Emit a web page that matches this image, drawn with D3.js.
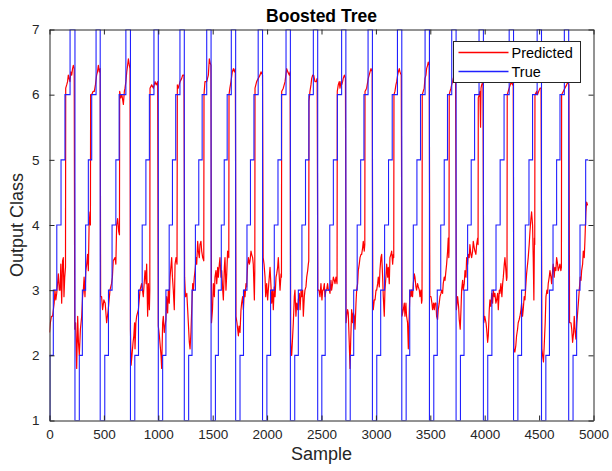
<!DOCTYPE html>
<html>
<head>
<meta charset="utf-8">
<script src="https://cdn.jsdelivr.net/npm/d3@7"></script>
<style>
  body { margin: 0; background: #fff; }
  svg { display: block; font-family: "Liberation Sans", Arial, sans-serif; }
</style>
</head>
<body>
<svg id="chart"></svg>
<script>
const xTicks = [0, 500, 1000, 1500, 2000, 2500, 3000, 3500, 4000, 4500, 5000];
const yTicks = [1, 2, 3, 4, 5, 6, 7];
const seriesNames = ["Predicted", "True"];
const seriesColors = ["#ff0000", "#2020ff"];

// True class: [sample where the level starts, level]
const trueSteps = [
  [0,1],[4,2],[35,3],[67,4],[106,5],[142,6],[189,7],[234,1],
  [274,2],[302,3],[332,4],[357,5],[388,6],[428,7],[466,1],
  [508,2],[542,3],[575,4],[610,5],[640,6],[702,7],[744,1],
  [784,2],[818,3],[852,4],[886,5],[918,6],[960,7],[1000,1],
  [1040,2],[1070,3],[1100,4],[1130,5],[1160,6],[1199,7],[1239,1],
  [1279,2],[1310,3],[1341,4],[1372,5],[1403,6],[1445,7],[1485,1],
  [1525,2],[1552,3],[1579,4],[1606,5],[1633,6],[1671,7],[1711,1],
  [1751,2],[1783,3],[1815,4],[1847,5],[1879,6],[1918,7],[1958,1],
  [1998,2],[2032,3],[2066,4],[2100,5],[2132,6],[2174,7],[2214,1],
  [2254,2],[2287,3],[2320,4],[2353,5],[2384,6],[2425,7],[2465,1],
  [2503,2],[2534,3],[2576,4],[2609,5],[2646,6],[2685,7],[2724,1],
  [2764,2],[2796,3],[2828,4],[2860,5],[2890,6],[2928,7],[2968,1],
  [3008,2],[3044,3],[3080,4],[3116,5],[3150,6],[3198,7],[3238,1],
  [3278,2],[3311,3],[3344,4],[3377,5],[3410,6],[3452,7],[3492,1],
  [3532,2],[3564,3],[3596,4],[3628,5],[3658,6],[3697,7],[3737,1],
  [3777,2],[3810,3],[3843,4],[3876,5],[3907,6],[3948,7],[3988,1],
  [4028,2],[4066,3],[4104,4],[4142,5],[4178,6],[4225,7],[4265,1],
  [4305,2],[4339,3],[4373,4],[4407,5],[4440,6],[4482,7],[4522,1],
  [4562,2],[4595,3],[4628,4],[4661,5],[4692,6],[4732,7],[4772,1],
  [4812,2],[4845,3],[4876,4],[4928,5],[4950,5]
];

// Predicted class: [sample, value]
const predicted = [
  [0,2.35],[8,2.5],[18,2.6],[28,2.6],[43,2.8],[50,3.0],[58,2.85],[66,2.95],[74,3.1],[81,3.25],[90,3.0],[97,3.0],[104,3.4],[112,2.8],[120,3.45],[127,3.5],[133,2.9],[140,3.2],[147,3.35],
  [149,6.1],[158,6.15],[166,6.2],[173,6.3],[180,6.25],[188,6.2],[196,6.35],[204,6.3],[212,6.4],[219,6.45],[227,6.4],
  [232,2.4],[240,2.5],[250,1.8],[259,2.6],[266,2.2],[274,2.0],[284,2.4],[296,2.6],[304,2.9],[311,3.0],[318,3.2],[326,2.9],[334,3.3],[342,3.4],[350,3.55],[357,3.3],[364,4.0],[372,4.2],[376,4.0],
  [378,6.0],[388,6.0],[400,6.05],[412,6.05],[422,6.15],[433,6.3],[441,6.35],[449,6.45],[458,6.35],[466,6.4],
  [470,2.9],[479,2.9],[488,2.7],[500,2.85],[512,2.8],[525,2.5],[540,2.7],[556,3.0],[570,3.1],[578,3.2],[586,3.45],[602,3.5],[610,3.4],[617,4.0],[626,4.1],[636,3.9],[643,3.85],
  [645,6.05],[655,5.95],[665,6.0],[679,5.85],[688,6.05],[694,6.1],[702,6.2],[710,6.35],[718,6.45],[725,6.55],[734,6.45],[740,6.4],
  [744,2.4],[750,1.85],[758,2.0],[768,2.2],[775,2.3],[782,2.5],[786,2.1],[794,2.5],[801,2.6],[817,2.7],[832,3.0],[847,3.1],[862,2.9],[878,3.3],[888,3.1],[893,3.4],[902,2.6],[909,3.1],[918,2.7],[922,3.0],
  [924,6.1],[939,6.15],[955,6.1],[970,6.2],[980,6.15],[994,6.2],
  [1000,2.45],[1010,2.3],[1025,2.0],[1031,1.8],[1040,2.5],[1046,2.6],[1055,2.35],[1062,2.45],[1070,2.55],[1077,2.9],[1086,2.65],[1092,3.0],[1101,2.8],[1108,3.2],[1123,3.5],[1130,3.2],[1138,3.0],[1147,2.7],[1154,3.4],[1163,3.5],[1172,3.4],
  [1175,6.15],[1184,6.1],[1200,6.2],[1215,6.25],[1224,6.3],[1236,6.3],
  [1242,3.2],[1250,2.9],[1262,2.95],[1270,2.7],[1276,2.5],[1285,2.2],[1292,2.1],[1300,2.35],[1307,2.7],[1316,3.1],[1322,3.0],[1331,3.2],[1338,3.3],[1347,3.5],[1353,3.4],[1362,3.75],[1368,3.6],[1377,3.5],[1383,3.7],[1392,3.75],[1399,3.6],[1408,3.5],[1418,3.45],
  [1420,6.0],[1429,6.2],[1445,6.2],[1460,6.3],[1469,6.55],[1475,6.5],[1484,6.45],
  [1489,2.5],[1498,2.7],[1506,3.1],[1515,2.9],[1521,3.2],[1530,3.3],[1537,3.1],[1546,3.35],[1552,3.2],[1561,3.4],[1567,3.5],[1576,3.2],[1583,3.3],[1592,3.0],[1598,2.85],[1607,3.35],[1613,3.5],[1622,3.0],[1629,3.25],[1637,3.6],[1644,3.55],[1648,3.5],
  [1650,6.0],[1658,6.1],[1668,6.2],[1680,6.35],[1690,6.4],[1699,6.35],[1708,6.4],
  [1714,2.6],[1723,2.5],[1736,2.3],[1742,2.45],[1751,2.35],[1760,2.7],[1766,2.8],[1775,2.9],[1782,2.7],[1791,3.0],[1797,2.9],[1806,3.1],[1812,3.05],[1821,3.4],[1828,3.5],[1837,3.4],[1843,3.45],[1852,3.6],[1858,3.55],[1867,3.5],[1873,3.4],[1883,2.85],[1887,3.3],
  [1889,6.1],[1904,6.2],[1919,6.25],[1935,6.3],[1944,6.35],[1958,6.3],
  [1964,3.5],[1972,3.4],[1981,3.2],[1987,2.9],[1996,3.1],[2005,2.85],[2011,3.0],[2020,3.2],[2027,3.35],[2036,3.05],[2042,2.8],[2051,3.0],[2057,2.7],[2066,3.05],[2073,2.9],[2082,3.2],[2088,3.25],[2097,3.35],[2103,3.5],[2112,3.2],[2119,3.0],[2128,3.25],[2132,3.2],
  [2134,6.05],[2149,6.1],[2165,6.2],[2180,6.4],[2190,6.35],[2205,6.3],[2212,6.35],
  [2217,2.2],[2222,2.0],[2226,2.0],[2235,2.3],[2241,2.5],[2250,2.9],[2256,3.0],[2265,2.6],[2272,2.8],[2281,2.7],[2287,2.85],[2296,2.95],[2303,2.7],[2312,3.0],[2318,2.9],[2327,3.0],[2333,2.6],[2342,2.9],[2348,3.0],[2357,3.05],[2364,3.2],[2373,3.3],[2379,3.4],[2383,3.45],
  [2385,5.9],[2394,6.05],[2403,6.15],[2410,6.25],[2419,6.3],[2428,6.3],[2440,6.2],[2450,6.2],[2460,6.25],
  [2466,3.0],[2477,3.0],[2486,2.9],[2495,3.1],[2504,2.85],[2511,3.0],[2517,3.0],[2526,3.1],[2532,2.9],[2541,3.0],[2547,3.0],[2556,3.1],[2563,3.0],[2572,3.0],[2578,2.95],[2587,3.15],[2593,3.0],[2602,3.1],[2609,3.2],[2618,3.15],[2624,3.1],[2633,3.2],[2643,3.1],
  [2645,6.05],[2654,6.15],[2663,6.2],[2670,6.1],[2679,6.2],[2685,6.15],[2694,6.2],[2700,6.25],[2710,6.3],[2720,6.25],
  [2726,2.5],[2731,2.6],[2740,2.7],[2746,2.65],[2755,2.2],[2762,1.8],[2768,2.2],[2777,2.7],[2786,2.5],[2792,2.65],[2801,2.6],[2808,2.4],[2817,2.8],[2823,3.0],[2832,3.1],[2838,3.3],[2847,3.4],[2854,3.5],[2863,3.55],[2869,3.55],[2878,3.65],[2884,3.75],[2893,3.6],[2898,3.7],
  [2900,6.05],[2915,6.1],[2930,6.25],[2946,6.35],[2955,6.4],[2966,6.35],
  [2972,2.7],[2976,2.7],[2985,2.85],[2992,2.85],[3001,3.0],[3007,3.0],[3016,3.1],[3022,3.2],[3031,3.05],[3037,3.3],[3046,3.5],[3053,3.55],[3062,3.2],[3068,2.9],[3077,2.6],[3083,3.0],[3092,3.2],[3099,3.4],[3108,3.2],[3114,3.35],[3123,3.1],[3129,3.5],[3138,3.55],[3145,3.6],[3154,3.4],[3160,3.55],[3164,3.5],
  [3166,6.0],[3175,6.05],[3184,6.15],[3191,6.2],[3200,6.3],[3206,6.35],[3215,6.4],[3221,6.35],[3233,6.3],
  [3240,2.6],[3252,2.7],[3261,2.8],[3267,2.6],[3276,2.8],[3282,2.6],[3291,2.5],[3298,2.1],[3304,2.5],[3313,3.0],[3322,2.9],[3328,3.0],[3337,2.9],[3344,3.1],[3353,3.25],[3359,3.2],[3368,3.05],[3374,3.0],[3383,3.1],[3390,3.05],[3399,3.0],[3405,2.9],[3414,3.0],[3420,2.8],[3424,2.85],
  [3426,6.0],[3435,6.05],[3444,6.1],[3451,6.25],[3460,6.3],[3466,6.4],[3475,6.45],[3481,6.5],[3490,6.45],
  [3496,2.9],[3506,2.9],[3515,2.8],[3521,2.7],[3530,2.8],[3537,2.7],[3543,2.8],[3552,2.8],[3558,2.6],[3567,2.55],[3573,2.7],[3582,2.8],[3589,2.9],[3598,2.95],[3604,3.0],[3613,2.95],[3619,3.1],[3628,3.2],[3635,3.15],[3644,3.3],[3650,3.4],[3659,3.6],[3665,3.8],[3670,3.5],[3672,3.6],
  [3674,6.0],[3681,6.05],[3690,6.1],[3696,6.15],[3705,6.2],[3711,6.25],[3720,6.3],[3732,6.3],
  [3740,2.7],[3751,2.9],[3760,2.75],[3766,2.55],[3775,2.4],[3782,2.7],[3788,3.0],[3797,3.15],[3803,3.0],[3812,3.1],[3819,3.3],[3828,3.2],[3834,3.5],[3843,3.4],[3849,3.55],[3858,3.5],[3864,3.7],[3873,3.55],[3880,3.5],[3889,3.6],[3895,3.75],[3904,3.65],[3910,3.6],[3919,3.55],[3926,3.7],[3935,3.8],[3939,3.7],
  [3941,5.95],[3950,6.0],[3956,6.05],[3962,5.5],[3966,6.1],[3972,6.15],[3984,6.2],
  [3992,2.5],[4000,2.6],[4012,2.5],[4018,2.4],[4027,2.2],[4033,2.3],[4042,2.7],[4048,2.85],[4057,2.75],[4064,2.95],[4073,2.8],[4079,3.0],[4088,2.9],[4094,2.95],[4103,2.8],[4110,2.85],[4119,2.95],[4125,2.7],[4134,3.0],[4140,2.95],[4149,3.1],[4158,2.9],[4165,3.1],[4171,3.2],[4180,3.4],[4186,3.5],[4195,3.3],[4201,3.15],[4205,3.2],
  [4207,6.0],[4216,6.05],[4225,6.1],[4235,6.15],[4245,6.2],[4255,6.15],[4262,6.2],
  [4268,2.1],[4277,2.05],[4286,2.15],[4293,2.3],[4302,2.4],[4308,2.5],[4317,2.55],[4324,2.6],[4333,2.7],[4339,2.8],[4348,2.6],[4354,2.7],[4363,2.9],[4370,2.85],[4379,3.1],[4385,3.25],[4394,3.4],[4400,3.5],[4409,3.7],[4416,3.9],[4425,4.1],[4431,4.2],[4440,4.0],[4446,3.5],[4452,2.85],[4457,3.8],[4460,3.7],
  [4462,6.0],[4477,6.05],[4486,6.0],[4496,6.05],[4508,6.1],[4518,6.1],
  [4526,2.1],[4532,2.0],[4540,1.9],[4547,2.15],[4556,2.5],[4563,2.9],[4572,3.0],[4578,2.95],[4584,3.1],[4593,3.2],[4600,3.3],[4609,3.2],[4615,3.1],[4624,3.3],[4630,3.4],[4639,3.2],[4645,3.35],[4654,3.3],[4661,3.5],[4670,3.4],[4676,3.3],[4685,3.35],[4691,3.4],[4700,3.3],[4705,3.35],
  [4707,6.0],[4722,6.05],[4737,6.1],[4753,6.15],[4765,6.2],[4774,6.15],
  [4780,2.5],[4793,2.5],[4800,2.4],[4808,2.2],[4817,2.35],[4823,2.6],[4832,2.35],[4838,2.25],[4847,2.5],[4854,2.65],[4863,2.85],[4869,3.0],[4878,3.2],[4885,3.15],[4891,3.3],[4900,3.4],[4906,3.6],[4915,3.5],[4921,3.75],[4930,4.2],[4937,4.35],[4946,4.3]
];

const width = 612, height = 471;
const margin = { top: 29.5, right: 18.5, bottom: 50.5, left: 49.5 };
const axisColor = "#262626";

const svg = d3.select("#chart")
    .attr("width", width)
    .attr("height", height)
    .attr("viewBox", [0, 0, width, height]);

const x = d3.scaleLinear()
    .domain([0, 5000])
    .range([margin.left, width - margin.right]);

const y = d3.scaleLinear()
    .domain([1, 7])
    .range([height - margin.bottom, margin.top]);

svg.append("clipPath")
    .attr("id", "plot-clip")
  .append("rect")
    .attr("x", margin.left)
    .attr("y", margin.top)
    .attr("width", x(5000) - x(0))
    .attr("height", y(1) - y(7));

// lines: predicted first, true on top (as plotted)
const plot = svg.append("g").attr("clip-path", "url(#plot-clip)");

plot.append("path")
    .datum(predicted)
    .attr("fill", "none")
    .attr("stroke", seriesColors[0])
    .attr("stroke-width", 1.2)
    .attr("stroke-linejoin", "round")
    .attr("d", d3.line().x(d => x(d[0])).y(d => y(d[1])));

plot.append("path")
    .datum(trueSteps)
    .attr("fill", "none")
    .attr("stroke", seriesColors[1])
    .attr("stroke-width", 1.1)
    .attr("d", d3.line().curve(d3.curveStepAfter).x(d => x(d[0])).y(d => y(d[1])));

// axes, MATLAB style: ticks inside, box on
const tickLen = 5;
const fmt = d3.format("d");

svg.append("g")
    .attr("transform", `translate(0,${y(1)})`)
    .call(d3.axisBottom(x).tickValues(xTicks).tickFormat(fmt).tickSizeInner(-tickLen).tickSizeOuter(0).tickPadding(9))
    .call(g => {
        g.selectAll(".tick line").attr("stroke", axisColor);
        g.selectAll(".tick text").attr("fill", axisColor).attr("font-size", 13.5);
    });

svg.append("g")
    .attr("transform", `translate(0,${y(7)})`)
    .call(d3.axisTop(x).tickValues(xTicks).tickSizeInner(-tickLen).tickSizeOuter(0).tickFormat(""))
    .call(g => g.selectAll(".tick line").attr("stroke", axisColor));

svg.append("g")
    .attr("transform", `translate(${x(0)},0)`)
    .call(d3.axisLeft(y).tickValues(yTicks).tickFormat(fmt).tickSizeInner(-tickLen).tickSizeOuter(0).tickPadding(10))
    .call(g => {
        g.selectAll(".tick line").attr("stroke", axisColor);
        g.selectAll(".tick text").attr("fill", axisColor).attr("font-size", 13.5);
    });

svg.append("g")
    .attr("transform", `translate(${x(5000)},0)`)
    .call(d3.axisRight(y).tickValues(yTicks).tickSizeInner(-tickLen).tickSizeOuter(0).tickFormat(""))
    .call(g => g.selectAll(".tick line").attr("stroke", axisColor));

svg.selectAll(".domain").attr("stroke", axisColor).attr("fill", "none");

// titles
svg.append("text")
    .attr("x", (x(0) + x(5000)) / 2)
    .attr("y", 22)
    .attr("text-anchor", "middle")
    .attr("font-weight", "bold")
    .attr("font-size", 17.5)
    .attr("fill", "#000")
    .text("Boosted Tree");

svg.append("text")
    .attr("x", (x(0) + x(5000)) / 2)
    .attr("y", 460)
    .attr("text-anchor", "middle")
    .attr("font-size", 18)
    .attr("fill", axisColor)
    .text("Sample");

svg.append("text")
    .attr("transform", `translate(23,${(y(1) + y(7)) / 2}) rotate(-90)`)
    .attr("text-anchor", "middle")
    .attr("font-size", 18)
    .attr("fill", axisColor)
    .text("Output Class");

// legend
const legend = svg.append("g").attr("transform", "translate(453.5,41.5)");
legend.append("rect")
    .attr("width", 127)
    .attr("height", 41)
    .attr("fill", "#fff")
    .attr("stroke", axisColor)
    .attr("stroke-width", 1);

const items = legend.selectAll(".item")
  .data(seriesNames)
  .join("g")
    .attr("class", "item")
    .attr("transform", (d, i) => `translate(0,${11 + i * 19})`);

items.append("line")
    .attr("x1", 5).attr("x2", 55)
    .attr("stroke", d => seriesColors[seriesNames.indexOf(d)])
    .attr("stroke-width", 1.4);

items.append("text")
    .attr("x", 58)
    .attr("y", 5)
    .attr("font-size", 14.5)
    .attr("fill", "#000")
    .text(d => d);
</script>
</body>
</html>
